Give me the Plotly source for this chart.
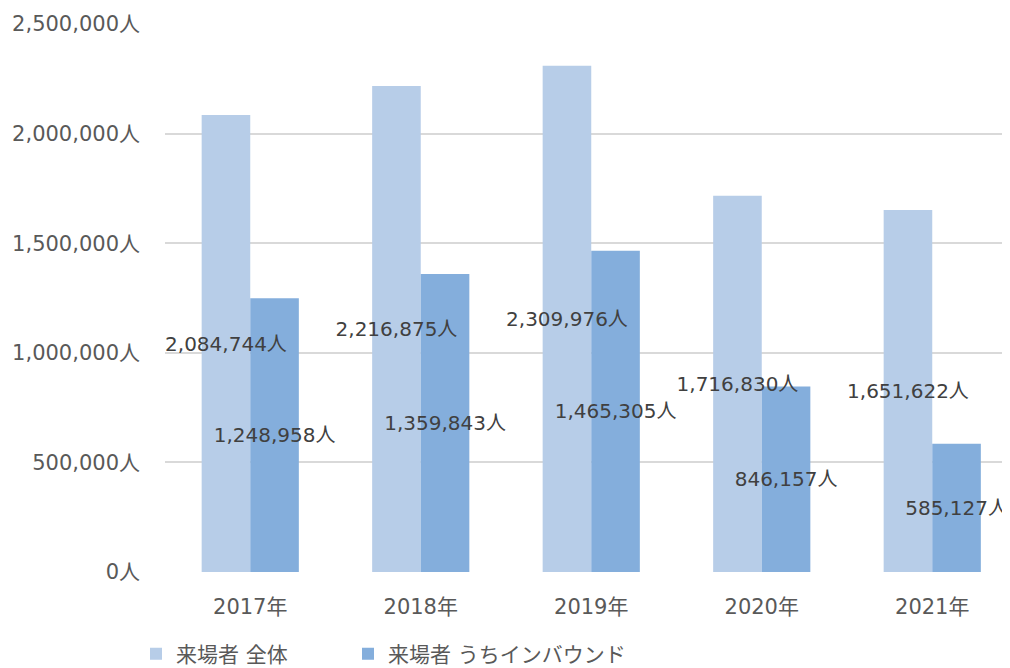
import plotly.graph_objects as go

years = ["2017年", "2018年", "2019年", "2020年", "2021年"]
total = [2084744, 2216875, 2309976, 1716830, 1651622]
inbound = [1248958, 1359843, 1465305, 846157, 585127]
series_names = ["来場者 全体", "来場者 うちインバウンド"]
tick_vals = [0, 500000, 1000000, 1500000, 2000000, 2500000]
tick_text = [f"{v:,}人" for v in tick_vals]

FONT = "DejaVu Sans, Noto Sans CJK JP, sans-serif"
colors = ["#B7CDE8", "#84AEDC"]
BW = 0.285
offsets = [-BW, 0.0]
legends = ["legend", "legend2"]

fig = go.Figure()
# bars (no text)
for name, vals, col, off, lg in zip(series_names, [total, inbound], colors, offsets, legends):
    fig.add_trace(go.Bar(
        name=name, x=years, y=vals, width=BW, offset=off,
        marker=dict(color=col, line=dict(width=0)),
        legend=lg, showlegend=True, hoverinfo="skip",
    ))
# value labels drawn on top of all bars
for name, vals, off in zip(series_names, [total, inbound], offsets):
    fig.add_trace(go.Bar(
        name=name, x=years, y=vals, width=BW, offset=off,
        marker=dict(color="rgba(0,0,0,0)", line=dict(width=0)),
        text=[f"{v:,}人" for v in vals],
        textposition="inside", insidetextanchor="middle",
        constraintext="none", textangle=0,
        textfont=dict(family=FONT, size=20, color="#404040"),
        cliponaxis=False, showlegend=False,
    ))

W, H = 1002, 660
leg_common = dict(orientation="h", xref="container", yref="container",
                  xanchor="left", yanchor="middle", y=0.021,
                  font=dict(family=FONT, size=21, color="#595959"),
                  bgcolor="rgba(0,0,0,0)", itemwidth=30)

fig.update_layout(
    width=W, height=H,
    margin=dict(l=157, r=0, t=16, b=96),
    paper_bgcolor="white", plot_bgcolor="white",
    barmode="overlay",
    font=dict(family=FONT, size=21, color="#595959"),
    legend=dict(x=128 / W, **leg_common),
    legend2=dict(x=340 / W, **leg_common),
    xaxis=dict(range=[-0.5, 4.456], showgrid=False, showline=False, zeroline=False,
               ticks="", ticklabelstandoff=20,
               tickfont=dict(family=FONT, size=21, color="#595959")),
    yaxis=dict(range=[0, 2500000], tickvals=tick_vals, ticktext=tick_text,
               showgrid=True, gridcolor="#D9D9D9", gridwidth=1.5,
               zeroline=False, showline=False, ticks="", ticklabelstandoff=24,
               tickfont=dict(family=FONT, size=21, color="#595959")),
)

fig.write_html("out.html")
